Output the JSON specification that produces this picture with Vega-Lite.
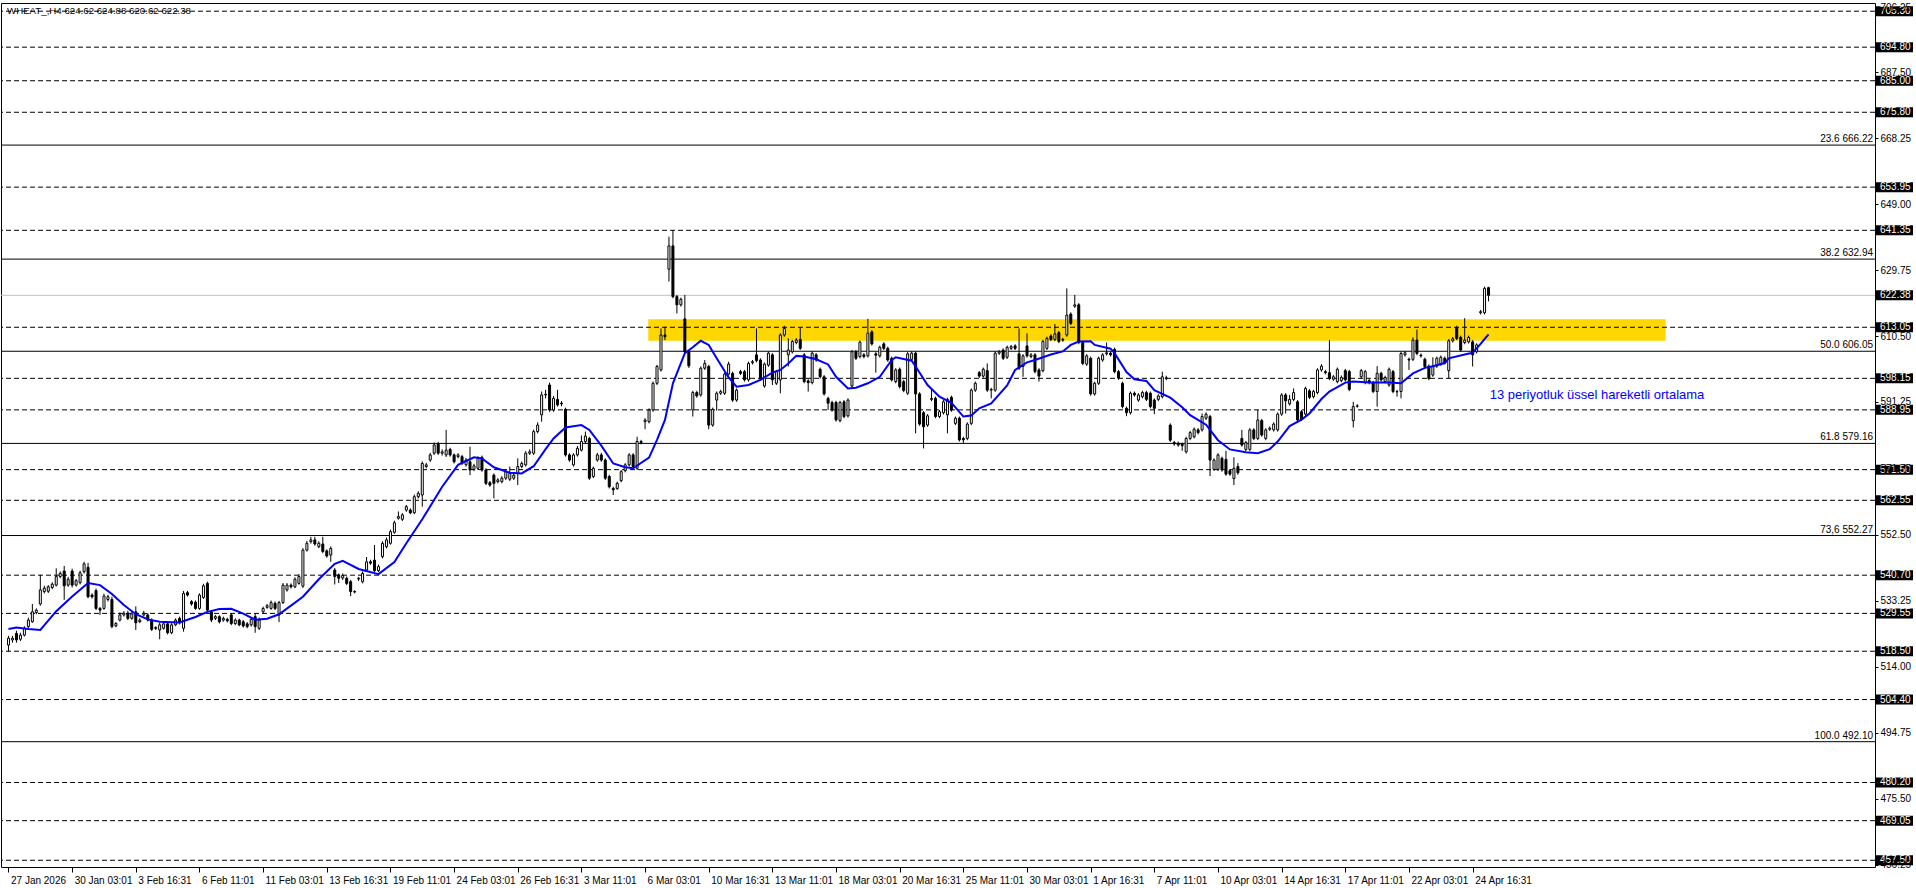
{
"$schema": "https://vega.github.io/schema/vega-lite/v6.json",
"width": 1874, "height": 864,
"autosize": {"type": "none"},
"padding": {"left": 1, "top": 3, "right": 41, "bottom": 21},
"background": "#ffffff",
"config": {"view": {"stroke": "#000000", "strokeWidth": 1}, "text": {"font": "Liberation Sans"}},
"datasets": {
"candles": [
{"i":0,"o":520.3,"h":523.0,"l":518.4,"c":522.3},{"i":1,"o":521.8,"h":523.0,"l":521.0,"c":522.3},{"i":2,"o":523.7,"h":524.5,"l":521.0,"c":521.8},{"i":3,"o":522.0,"h":523.9,"l":521.5,"c":523.2},{"i":4,"o":523.2,"h":525.8,"l":522.8,"c":525.2},{"i":5,"o":525.7,"h":528.3,"l":525.2,"c":527.6},{"i":6,"o":527.1,"h":532.3,"l":526.8,"c":530.0},{"i":7,"o":529.8,"h":531.0,"l":529.3,"c":530.5},{"i":8,"o":532.3,"h":540.8,"l":531.8,"c":536.4},{"i":9,"o":535.9,"h":537.6,"l":535.4,"c":536.9},
{"i":10,"o":536.0,"h":537.8,"l":535.5,"c":537.3},{"i":11,"o":537.1,"h":538.6,"l":536.6,"c":538.1},{"i":12,"o":537.8,"h":542.7,"l":537.4,"c":540.3},{"i":13,"o":540.3,"h":541.8,"l":539.8,"c":541.2},{"i":14,"o":541.9,"h":543.4,"l":533.5,"c":537.6},{"i":15,"o":537.8,"h":540.2,"l":537.3,"c":539.5},{"i":16,"o":541.9,"h":542.6,"l":537.1,"c":537.8},{"i":17,"o":537.8,"h":539.6,"l":537.4,"c":539.1},{"i":18,"o":538.5,"h":542.0,"l":538.0,"c":541.4},{"i":19,"o":541.7,"h":544.6,"l":541.2,"c":544.0},
{"i":20,"o":543.0,"h":544.3,"l":534.0,"c":534.4},{"i":21,"o":534.9,"h":535.4,"l":533.9,"c":534.4},{"i":22,"o":536.2,"h":536.8,"l":530.5,"c":531.0},{"i":23,"o":531.0,"h":531.4,"l":529.1,"c":530.5},{"i":24,"o":531.0,"h":535.3,"l":530.6,"c":534.6},{"i":25,"o":533.6,"h":535.0,"l":533.0,"c":534.4},{"i":26,"o":533.6,"h":534.4,"l":525.2,"c":525.7},{"i":27,"o":525.9,"h":527.0,"l":525.5,"c":526.6},{"i":28,"o":527.6,"h":529.8,"l":527.2,"c":529.1},{"i":29,"o":529.1,"h":530.2,"l":528.6,"c":529.6},
{"i":30,"o":529.6,"h":530.3,"l":527.6,"c":528.1},{"i":31,"o":528.1,"h":530.1,"l":527.7,"c":529.4},{"i":32,"o":530.0,"h":531.6,"l":524.7,"c":526.8},{"i":33,"o":527.1,"h":528.1,"l":526.7,"c":527.6},{"i":34,"o":529.1,"h":530.3,"l":528.6,"c":529.6},{"i":35,"o":529.1,"h":529.6,"l":527.2,"c":527.6},{"i":36,"o":527.6,"h":528.1,"l":524.4,"c":524.9},{"i":37,"o":525.4,"h":525.8,"l":524.7,"c":525.2},{"i":38,"o":524.7,"h":526.8,"l":522.0,"c":526.2},{"i":39,"o":525.2,"h":527.0,"l":524.8,"c":526.5},
{"i":40,"o":526.5,"h":527.0,"l":523.4,"c":523.9},{"i":41,"o":523.9,"h":526.7,"l":523.5,"c":526.2},{"i":42,"o":526.2,"h":528.1,"l":525.8,"c":527.6},{"i":43,"o":528.1,"h":528.6,"l":526.3,"c":526.8},{"i":44,"o":525.2,"h":536.1,"l":524.2,"c":535.4},{"i":45,"o":535.6,"h":536.1,"l":534.5,"c":534.9},{"i":46,"o":533.0,"h":533.4,"l":531.8,"c":532.3},{"i":47,"o":532.8,"h":533.3,"l":530.6,"c":531.0},{"i":48,"o":531.0,"h":535.4,"l":530.6,"c":534.9},{"i":49,"o":534.2,"h":538.2,"l":533.8,"c":537.6},
{"i":50,"o":538.3,"h":538.8,"l":530.0,"c":530.5},{"i":51,"o":530.0,"h":530.5,"l":527.0,"c":527.6},{"i":52,"o":528.1,"h":529.1,"l":527.6,"c":528.6},{"i":53,"o":528.6,"h":529.0,"l":526.6,"c":527.1},{"i":54,"o":527.6,"h":528.6,"l":527.1,"c":528.1},{"i":55,"o":527.8,"h":528.3,"l":526.9,"c":527.4},{"i":56,"o":529.1,"h":529.6,"l":526.1,"c":526.6},{"i":57,"o":526.6,"h":528.1,"l":526.1,"c":527.6},{"i":58,"o":527.6,"h":528.0,"l":525.8,"c":526.2},{"i":59,"o":527.1,"h":527.6,"l":525.4,"c":525.9},
{"i":60,"o":526.5,"h":527.0,"l":525.2,"c":525.7},{"i":61,"o":526.2,"h":528.3,"l":525.7,"c":527.8},{"i":62,"o":528.6,"h":529.6,"l":523.9,"c":525.7},{"i":63,"o":525.2,"h":528.3,"l":524.7,"c":527.6},{"i":64,"o":530.0,"h":531.5,"l":529.5,"c":531.0},{"i":65,"o":531.3,"h":532.3,"l":530.9,"c":531.8},{"i":66,"o":531.0,"h":533.3,"l":530.6,"c":532.7},{"i":67,"o":532.5,"h":533.0,"l":530.5,"c":531.0},{"i":68,"o":529.1,"h":533.2,"l":527.0,"c":532.7},{"i":69,"o":532.7,"h":538.4,"l":532.3,"c":537.8},
{"i":70,"o":536.4,"h":538.4,"l":535.9,"c":537.8},{"i":71,"o":537.8,"h":538.3,"l":536.8,"c":537.3},{"i":72,"o":537.3,"h":540.1,"l":536.9,"c":539.5},{"i":73,"o":538.3,"h":541.0,"l":537.9,"c":540.3},{"i":74,"o":537.5,"h":548.6,"l":537.0,"c":548.0},{"i":75,"o":548.0,"h":550.7,"l":547.6,"c":550.0},{"i":76,"o":550.5,"h":551.9,"l":549.9,"c":551.0},{"i":77,"o":551.0,"h":551.9,"l":549.3,"c":549.8},{"i":78,"o":549.0,"h":550.6,"l":548.6,"c":550.0},{"i":79,"o":549.8,"h":551.9,"l":547.1,"c":547.6},
{"i":80,"o":547.8,"h":548.2,"l":545.8,"c":546.3},{"i":81,"o":546.6,"h":549.1,"l":544.6,"c":548.5},{"i":82,"o":542.2,"h":542.8,"l":538.0,"c":540.3},{"i":83,"o":540.8,"h":541.2,"l":538.4,"c":539.8},{"i":84,"o":539.9,"h":541.2,"l":539.3,"c":540.6},{"i":85,"o":539.8,"h":540.3,"l":537.8,"c":538.3},{"i":86,"o":538.8,"h":539.3,"l":534.6,"c":535.9},{"i":87,"o":535.9,"h":536.3,"l":535.4,"c":535.8},{"i":88,"o":539.6,"h":540.2,"l":539.0,"c":539.8},{"i":89,"o":538.8,"h":541.8,"l":538.3,"c":541.2},
{"i":90,"o":542.2,"h":546.0,"l":541.8,"c":544.6},{"i":91,"o":544.6,"h":545.2,"l":543.7,"c":544.2},{"i":92,"o":545.1,"h":549.5,"l":541.6,"c":542.0},{"i":93,"o":542.0,"h":543.8,"l":541.6,"c":543.2},{"i":94,"o":546.1,"h":550.6,"l":545.6,"c":550.0},{"i":95,"o":549.0,"h":551.7,"l":548.5,"c":551.0},{"i":96,"o":550.0,"h":554.0,"l":549.6,"c":553.4},{"i":97,"o":553.2,"h":556.6,"l":552.8,"c":556.0},{"i":98,"o":557.3,"h":559.3,"l":556.9,"c":557.8},{"i":99,"o":557.0,"h":558.8,"l":556.5,"c":558.3},
{"i":100,"o":559.7,"h":561.2,"l":559.2,"c":560.7},{"i":101,"o":559.7,"h":560.2,"l":558.5,"c":558.9},{"i":102,"o":558.9,"h":564.2,"l":558.5,"c":563.6},{"i":103,"o":563.6,"h":565.2,"l":563.1,"c":564.6},{"i":104,"o":564.1,"h":573.9,"l":560.7,"c":573.3},{"i":105,"o":572.4,"h":573.5,"l":571.9,"c":572.9},{"i":106,"o":574.3,"h":576.4,"l":573.8,"c":575.8},{"i":107,"o":576.3,"h":579.4,"l":575.8,"c":578.7},{"i":108,"o":579.0,"h":579.6,"l":575.8,"c":576.3},{"i":109,"o":576.3,"h":577.4,"l":575.6,"c":576.7},
{"i":110,"o":575.8,"h":583.1,"l":575.2,"c":577.2},{"i":111,"o":577.4,"h":577.9,"l":575.3,"c":575.8},{"i":112,"o":575.8,"h":576.2,"l":573.3,"c":573.8},{"i":113,"o":575.3,"h":576.3,"l":574.8,"c":575.8},{"i":114,"o":575.3,"h":575.8,"l":572.9,"c":573.3},{"i":115,"o":572.9,"h":574.9,"l":572.4,"c":574.3},{"i":116,"o":573.8,"h":578.2,"l":569.9,"c":571.4},{"i":117,"o":571.6,"h":573.2,"l":571.1,"c":572.6},{"i":118,"o":571.9,"h":575.4,"l":571.4,"c":574.8},{"i":119,"o":575.1,"h":575.6,"l":570.9,"c":571.4},
{"i":120,"o":571.4,"h":571.9,"l":567.0,"c":567.5},{"i":121,"o":567.7,"h":568.2,"l":566.5,"c":567.0},{"i":122,"o":569.9,"h":570.4,"l":563.1,"c":567.5},{"i":123,"o":568.0,"h":569.0,"l":567.5,"c":568.5},{"i":124,"o":568.0,"h":569.6,"l":567.5,"c":569.0},{"i":125,"o":569.0,"h":571.5,"l":568.5,"c":570.9},{"i":126,"o":568.7,"h":572.4,"l":568.2,"c":570.4},{"i":127,"o":569.0,"h":570.4,"l":568.5,"c":569.9},{"i":128,"o":570.4,"h":574.8,"l":567.0,"c":572.4},{"i":129,"o":572.4,"h":573.9,"l":571.9,"c":573.3},
{"i":130,"o":572.9,"h":576.9,"l":572.4,"c":576.3},{"i":131,"o":576.3,"h":577.4,"l":575.8,"c":576.7},{"i":132,"o":576.3,"h":583.2,"l":575.8,"c":582.6},{"i":133,"o":582.6,"h":585.3,"l":582.1,"c":584.5},{"i":134,"o":587.5,"h":594.3,"l":585.5,"c":593.3},{"i":135,"o":593.3,"h":594.8,"l":592.3,"c":593.5},{"i":136,"o":596.2,"h":596.9,"l":588.4,"c":588.9},{"i":137,"o":588.9,"h":593.0,"l":588.4,"c":592.3},{"i":138,"o":592.0,"h":594.8,"l":589.9,"c":590.4},{"i":139,"o":590.9,"h":591.5,"l":590.0,"c":590.7},
{"i":140,"o":589.1,"h":589.6,"l":575.3,"c":575.8},{"i":141,"o":575.8,"h":576.3,"l":573.8,"c":574.3},{"i":142,"o":572.9,"h":576.3,"l":572.4,"c":575.8},{"i":143,"o":575.8,"h":578.4,"l":575.3,"c":577.7},{"i":144,"o":577.2,"h":581.5,"l":576.8,"c":579.7},{"i":145,"o":579.7,"h":582.6,"l":579.2,"c":581.3},{"i":146,"o":580.6,"h":581.1,"l":568.5,"c":569.0},{"i":147,"o":569.5,"h":572.4,"l":569.0,"c":571.9},{"i":148,"o":574.3,"h":576.4,"l":573.8,"c":575.8},{"i":149,"o":575.8,"h":576.4,"l":573.8,"c":574.3},
{"i":150,"o":574.3,"h":574.8,"l":568.5,"c":569.0},{"i":151,"o":569.5,"h":570.0,"l":566.0,"c":566.5},{"i":152,"o":566.0,"h":566.5,"l":564.1,"c":565.6},{"i":153,"o":566.0,"h":568.0,"l":565.6,"c":567.5},{"i":154,"o":568.3,"h":571.4,"l":567.8,"c":570.9},{"i":155,"o":571.2,"h":573.4,"l":570.7,"c":572.9},{"i":156,"o":572.9,"h":576.3,"l":572.4,"c":575.8},{"i":157,"o":575.8,"h":576.3,"l":571.9,"c":572.4},{"i":158,"o":571.9,"h":581.1,"l":571.4,"c":579.7},{"i":159,"o":579.7,"h":580.2,"l":578.9,"c":579.4},
{"i":160,"o":585.5,"h":586.5,"l":583.3,"c":586.0},{"i":161,"o":585.5,"h":589.4,"l":585.0,"c":588.9},{"i":162,"o":588.9,"h":597.2,"l":588.4,"c":596.7},{"i":163,"o":596.7,"h":602.1,"l":596.2,"c":601.6},{"i":164,"o":600.6,"h":612.7,"l":600.1,"c":610.8},{"i":165,"o":610.8,"h":613.2,"l":609.3,"c":610.3},{"i":166,"o":630.0,"h":639.5,"l":626.4,"c":636.8},{"i":167,"o":636.8,"h":641.4,"l":621.5,"c":622.0},{"i":168,"o":622.0,"h":622.5,"l":617.1,"c":619.6},{"i":169,"o":619.6,"h":621.7,"l":619.1,"c":621.2},
{"i":170,"o":615.5,"h":622.5,"l":605.4,"c":605.9},{"i":171,"o":605.9,"h":606.4,"l":601.2,"c":601.8},{"i":172,"o":588.9,"h":594.5,"l":587.0,"c":594.0},{"i":173,"o":594.0,"h":594.5,"l":592.5,"c":593.0},{"i":174,"o":593.3,"h":601.6,"l":592.8,"c":601.1},{"i":175,"o":601.1,"h":603.5,"l":600.6,"c":602.5},{"i":176,"o":601.6,"h":602.1,"l":583.3,"c":584.5},{"i":177,"o":584.5,"h":589.6,"l":584.0,"c":589.1},{"i":178,"o":591.8,"h":594.3,"l":588.7,"c":593.8},{"i":179,"o":593.8,"h":594.8,"l":593.3,"c":594.3},
{"i":180,"o":593.8,"h":599.9,"l":593.3,"c":599.4},{"i":181,"o":599.4,"h":603.0,"l":598.9,"c":602.3},{"i":182,"o":599.6,"h":600.1,"l":591.3,"c":591.8},{"i":183,"o":591.8,"h":595.2,"l":591.3,"c":594.7},{"i":184,"o":600.1,"h":600.6,"l":599.1,"c":599.6},{"i":185,"o":600.1,"h":600.6,"l":597.2,"c":597.7},{"i":186,"o":597.7,"h":603.0,"l":597.2,"c":602.5},{"i":187,"o":602.7,"h":603.5,"l":602.2,"c":603.0},{"i":188,"o":605.0,"h":612.7,"l":602.8,"c":603.3},{"i":189,"o":603.5,"h":604.0,"l":597.4,"c":597.9},
{"i":190,"o":595.9,"h":602.8,"l":595.4,"c":602.3},{"i":191,"o":602.0,"h":606.0,"l":601.5,"c":605.5},{"i":192,"o":605.0,"h":605.5,"l":596.2,"c":597.7},{"i":193,"o":596.7,"h":600.6,"l":596.2,"c":600.1},{"i":194,"o":597.7,"h":611.3,"l":593.8,"c":610.8},{"i":195,"o":610.8,"h":613.5,"l":610.3,"c":612.7},{"i":196,"o":605.0,"h":609.8,"l":601.6,"c":606.4},{"i":197,"o":605.9,"h":609.4,"l":605.4,"c":608.9},{"i":198,"o":608.6,"h":609.9,"l":608.1,"c":609.3},{"i":199,"o":609.5,"h":613.0,"l":606.4,"c":606.9},
{"i":200,"o":605.0,"h":605.5,"l":596.7,"c":597.2},{"i":201,"o":597.4,"h":597.9,"l":594.3,"c":596.9},{"i":202,"o":596.9,"h":606.0,"l":596.4,"c":605.5},{"i":203,"o":605.0,"h":605.5,"l":603.0,"c":603.5},{"i":204,"o":600.8,"h":601.3,"l":598.1,"c":598.6},{"i":205,"o":598.6,"h":599.1,"l":593.1,"c":593.6},{"i":206,"o":592.3,"h":592.8,"l":588.9,"c":590.9},{"i":207,"o":591.1,"h":591.6,"l":588.4,"c":588.9},{"i":208,"o":591.1,"h":591.6,"l":585.5,"c":586.0},{"i":209,"o":585.8,"h":591.6,"l":585.3,"c":591.1},
{"i":210,"o":591.3,"h":591.8,"l":586.5,"c":587.0},{"i":211,"o":587.2,"h":592.3,"l":586.7,"c":591.8},{"i":212,"o":595.9,"h":606.4,"l":595.4,"c":605.9},{"i":213,"o":605.9,"h":606.4,"l":603.5,"c":604.0},{"i":214,"o":604.5,"h":609.2,"l":604.0,"c":608.7},{"i":215,"o":605.0,"h":605.5,"l":604.0,"c":604.5},{"i":216,"o":604.7,"h":615.5,"l":604.2,"c":611.3},{"i":217,"o":611.7,"h":612.2,"l":607.7,"c":608.2},{"i":218,"o":605.3,"h":605.8,"l":599.8,"c":604.9},{"i":219,"o":604.7,"h":607.7,"l":604.2,"c":607.2},
{"i":220,"o":608.2,"h":608.7,"l":606.4,"c":606.9},{"i":221,"o":606.9,"h":607.4,"l":603.0,"c":603.5},{"i":222,"o":604.0,"h":604.5,"l":597.2,"c":597.7},{"i":223,"o":597.2,"h":601.1,"l":596.7,"c":600.6},{"i":224,"o":600.8,"h":601.3,"l":595.2,"c":595.7},{"i":225,"o":597.2,"h":597.7,"l":594.1,"c":594.6},{"i":226,"o":593.8,"h":605.8,"l":593.3,"c":605.3},{"i":227,"o":603.7,"h":606.0,"l":603.2,"c":605.5},{"i":228,"o":605.5,"h":606.0,"l":582.1,"c":593.6},{"i":229,"o":593.6,"h":594.1,"l":584.3,"c":584.8},
{"i":230,"o":588.1,"h":588.6,"l":577.7,"c":584.0},{"i":231,"o":584.5,"h":587.7,"l":584.0,"c":587.2},{"i":232,"o":592.0,"h":595.2,"l":591.5,"c":592.3},{"i":233,"o":592.3,"h":592.8,"l":586.5,"c":587.0},{"i":234,"o":587.0,"h":588.9,"l":586.5,"c":588.4},{"i":235,"o":588.1,"h":591.8,"l":587.6,"c":591.3},{"i":236,"o":587.5,"h":592.5,"l":582.1,"c":592.0},{"i":237,"o":592.6,"h":593.1,"l":588.4,"c":588.9},{"i":238,"o":585.0,"h":587.0,"l":584.5,"c":586.5},{"i":239,"o":586.5,"h":587.0,"l":579.7,"c":580.2},
{"i":240,"o":580.6,"h":581.1,"l":579.2,"c":580.2},{"i":241,"o":580.6,"h":585.3,"l":580.1,"c":584.8},{"i":242,"o":585.0,"h":595.2,"l":584.5,"c":594.7},{"i":243,"o":594.7,"h":597.2,"l":594.2,"c":596.7},{"i":244,"o":599.8,"h":600.3,"l":598.3,"c":598.8},{"i":245,"o":598.8,"h":601.3,"l":598.3,"c":600.8},{"i":246,"o":600.4,"h":602.5,"l":594.2,"c":594.7},{"i":247,"o":594.7,"h":595.4,"l":592.3,"c":594.9},{"i":248,"o":594.7,"h":606.0,"l":594.2,"c":605.5},{"i":249,"o":605.5,"h":606.4,"l":605.0,"c":605.9},
{"i":250,"o":606.4,"h":606.9,"l":603.5,"c":604.0},{"i":251,"o":604.3,"h":607.7,"l":603.8,"c":607.2},{"i":252,"o":606.9,"h":607.9,"l":606.4,"c":607.4},{"i":253,"o":607.6,"h":608.1,"l":606.4,"c":606.9},{"i":254,"o":605.3,"h":612.7,"l":600.6,"c":601.1},{"i":255,"o":601.6,"h":605.2,"l":598.6,"c":604.7},{"i":256,"o":607.6,"h":611.3,"l":604.2,"c":604.7},{"i":257,"o":604.5,"h":605.5,"l":604.0,"c":605.0},{"i":258,"o":605.0,"h":605.5,"l":599.6,"c":600.1},{"i":259,"o":600.6,"h":601.1,"l":597.2,"c":598.8},
{"i":260,"o":600.4,"h":609.4,"l":599.9,"c":608.9},{"i":261,"o":606.9,"h":610.3,"l":606.4,"c":609.8},{"i":262,"o":610.5,"h":611.0,"l":609.0,"c":609.5},{"i":263,"o":609.5,"h":614.0,"l":609.0,"c":611.1},{"i":264,"o":611.5,"h":612.0,"l":608.4,"c":608.9},{"i":265,"o":609.3,"h":610.0,"l":608.8,"c":609.5},{"i":266,"o":610.8,"h":624.4,"l":610.3,"c":616.6},{"i":267,"o":616.9,"h":617.4,"l":613.7,"c":614.2},{"i":268,"o":619.2,"h":622.5,"l":618.7,"c":619.6},{"i":269,"o":619.6,"h":620.1,"l":608.1,"c":608.6},
{"i":270,"o":608.6,"h":609.1,"l":602.0,"c":602.5},{"i":271,"o":602.3,"h":605.2,"l":601.8,"c":604.7},{"i":272,"o":604.0,"h":604.5,"l":593.1,"c":593.6},{"i":273,"o":593.6,"h":597.2,"l":593.1,"c":596.7},{"i":274,"o":596.7,"h":604.5,"l":596.2,"c":604.0},{"i":275,"o":603.5,"h":605.5,"l":603.0,"c":605.0},{"i":276,"o":605.3,"h":608.6,"l":604.8,"c":605.6},{"i":277,"o":605.5,"h":606.0,"l":604.5,"c":605.0},{"i":278,"o":606.6,"h":607.1,"l":599.6,"c":600.1},{"i":279,"o":600.1,"h":600.6,"l":597.7,"c":598.2},
{"i":280,"o":596.7,"h":597.2,"l":589.4,"c":589.9},{"i":281,"o":589.4,"h":589.9,"l":587.1,"c":588.1},{"i":282,"o":588.1,"h":594.3,"l":587.6,"c":593.8},{"i":283,"o":593.8,"h":594.3,"l":592.8,"c":593.3},{"i":284,"o":591.8,"h":593.8,"l":591.3,"c":593.3},{"i":285,"o":592.8,"h":594.5,"l":592.3,"c":594.0},{"i":286,"o":594.0,"h":594.5,"l":591.5,"c":592.0},{"i":287,"o":593.8,"h":594.3,"l":589.4,"c":589.9},{"i":288,"o":591.8,"h":592.3,"l":587.7,"c":589.4},{"i":289,"o":592.0,"h":593.5,"l":591.5,"c":593.0},
{"i":290,"o":592.8,"h":600.1,"l":592.3,"c":598.6},{"i":291,"o":598.3,"h":598.9,"l":597.6,"c":598.1},{"i":292,"o":584.5,"h":585.0,"l":579.6,"c":580.1},{"i":293,"o":579.4,"h":579.9,"l":578.5,"c":579.0},{"i":294,"o":579.2,"h":579.7,"l":578.2,"c":578.7},{"i":295,"o":578.9,"h":579.4,"l":577.0,"c":578.5},{"i":296,"o":576.7,"h":581.1,"l":576.2,"c":580.6},{"i":297,"o":580.6,"h":582.8,"l":580.1,"c":582.3},{"i":298,"o":581.1,"h":583.8,"l":580.6,"c":583.3},{"i":299,"o":583.1,"h":583.6,"l":581.8,"c":582.3},
{"i":300,"o":583.1,"h":587.9,"l":582.6,"c":587.0},{"i":301,"o":586.5,"h":588.2,"l":586.0,"c":587.7},{"i":302,"o":587.0,"h":587.5,"l":569.6,"c":574.3},{"i":303,"o":571.6,"h":574.8,"l":571.1,"c":574.3},{"i":304,"o":571.6,"h":576.3,"l":571.1,"c":575.8},{"i":305,"o":574.8,"h":575.3,"l":570.9,"c":571.4},{"i":306,"o":574.5,"h":577.0,"l":569.7,"c":570.2},{"i":307,"o":571.2,"h":571.7,"l":569.7,"c":570.2},{"i":308,"o":568.9,"h":575.1,"l":567.0,"c":571.9},{"i":309,"o":572.4,"h":573.4,"l":570.0,"c":570.6},
{"i":310,"o":580.6,"h":583.1,"l":578.2,"c":578.7},{"i":311,"o":577.4,"h":579.9,"l":576.9,"c":579.4},{"i":312,"o":577.4,"h":583.6,"l":576.9,"c":583.1},{"i":313,"o":583.1,"h":583.6,"l":580.1,"c":580.6},{"i":314,"o":580.6,"h":588.9,"l":580.1,"c":586.0},{"i":315,"o":585.8,"h":586.3,"l":581.1,"c":581.6},{"i":316,"o":580.6,"h":583.6,"l":580.1,"c":583.1},{"i":317,"o":583.3,"h":584.1,"l":582.8,"c":583.6},{"i":318,"o":583.1,"h":585.3,"l":582.6,"c":584.8},{"i":319,"o":583.1,"h":588.2,"l":582.6,"c":587.7},
{"i":320,"o":587.7,"h":593.8,"l":587.2,"c":593.3},{"i":321,"o":593.3,"h":593.8,"l":587.9,"c":591.6},{"i":322,"o":590.7,"h":593.3,"l":590.2,"c":592.0},{"i":323,"o":592.0,"h":595.2,"l":591.5,"c":594.0},{"i":324,"o":591.3,"h":591.8,"l":585.5,"c":586.0},{"i":325,"o":588.4,"h":588.9,"l":585.7,"c":586.2},{"i":326,"o":587.7,"h":595.7,"l":587.2,"c":595.2},{"i":327,"o":594.5,"h":595.0,"l":592.1,"c":592.6},{"i":328,"o":592.8,"h":594.8,"l":592.3,"c":594.3},{"i":329,"o":594.0,"h":601.1,"l":593.5,"c":600.6},
{"i":330,"o":600.6,"h":602.3,"l":600.1,"c":601.7},{"i":331,"o":600.1,"h":600.6,"l":599.3,"c":599.8},{"i":332,"o":599.8,"h":609.3,"l":597.6,"c":598.1},{"i":333,"o":597.9,"h":599.1,"l":597.4,"c":598.6},{"i":334,"o":597.2,"h":601.3,"l":596.7,"c":600.8},{"i":335,"o":597.5,"h":599.0,"l":597.0,"c":598.4},{"i":336,"o":600.4,"h":600.9,"l":597.2,"c":597.7},{"i":337,"o":600.1,"h":600.6,"l":594.4,"c":594.9},{"i":338,"o":585.8,"h":591.3,"l":583.8,"c":589.9},{"i":339,"o":590.0,"h":590.6,"l":589.6,"c":590.1},
{"i":340,"o":598.6,"h":600.9,"l":598.1,"c":600.4},{"i":341,"o":596.9,"h":600.6,"l":596.4,"c":600.1},{"i":342,"o":597.5,"h":598.0,"l":596.4,"c":596.9},{"i":343,"o":596.9,"h":597.4,"l":593.8,"c":594.3},{"i":344,"o":594.3,"h":601.7,"l":589.9,"c":599.6},{"i":345,"o":599.6,"h":600.1,"l":597.2,"c":597.7},{"i":346,"o":597.2,"h":598.9,"l":596.7,"c":598.4},{"i":347,"o":596.2,"h":601.3,"l":595.7,"c":600.8},{"i":348,"o":600.1,"h":600.6,"l":593.8,"c":594.3},{"i":349,"o":594.3,"h":594.8,"l":592.8,"c":594.2},
{"i":350,"o":594.3,"h":605.9,"l":592.3,"c":605.4},{"i":351,"o":605.0,"h":606.1,"l":604.5,"c":605.6},{"i":352,"o":603.7,"h":604.2,"l":600.6,"c":603.5},{"i":353,"o":603.7,"h":610.1,"l":603.2,"c":609.3},{"i":354,"o":609.3,"h":612.4,"l":604.9,"c":605.4},{"i":355,"o":604.9,"h":605.4,"l":604.2,"c":604.7},{"i":356,"o":603.7,"h":604.2,"l":601.1,"c":601.6},{"i":357,"o":601.7,"h":602.2,"l":597.6,"c":598.1},{"i":358,"o":599.1,"h":604.3,"l":598.6,"c":601.7},{"i":359,"o":601.7,"h":604.5,"l":601.2,"c":604.0},
{"i":360,"o":602.3,"h":604.8,"l":601.8,"c":604.3},{"i":361,"o":604.0,"h":604.5,"l":602.2,"c":602.7},{"i":362,"o":600.4,"h":609.6,"l":598.1,"c":609.1},{"i":363,"o":609.1,"h":610.2,"l":608.6,"c":609.7},{"i":364,"o":613.0,"h":613.5,"l":609.3,"c":609.8},{"i":365,"o":610.1,"h":610.6,"l":605.9,"c":606.4},{"i":366,"o":608.6,"h":615.7,"l":608.1,"c":609.3},{"i":367,"o":608.8,"h":610.6,"l":608.3,"c":610.1},{"i":368,"o":608.8,"h":609.3,"l":601.6,"c":605.0},{"i":369,"o":605.9,"h":608.4,"l":605.4,"c":607.9},
{"i":370,"o":617.3,"h":618.1,"l":616.8,"c":617.6},{"i":371,"o":617.3,"h":624.9,"l":616.8,"c":624.4},{"i":372,"o":624.62,"h":624.88,"l":620.62,"c":622.38}
],
"ema": [
{"i":0,"v":525.0},{"i":2,"v":525.4},{"i":5,"v":525.0},{"i":8,"v":524.7},{"i":12,"v":530.2},{"i":16,"v":534.5},{"i":20,"v":538.4},{"i":23,"v":537.8},{"i":26,"v":535.2},{"i":29,"v":532.0},{"i":32,"v":529.3},{"i":35,"v":527.8},{"i":38,"v":527.1},{"i":43,"v":526.9},{"i":47,"v":528.5},{"i":50,"v":530.0},{"i":53,"v":530.8},{"i":56,"v":530.9},{"i":59,"v":529.5},{"i":62,"v":527.7},{"i":65,"v":528.0},{"i":68,"v":529.3},{"i":71,"v":531.8},{"i":74,"v":534.4},{"i":78,"v":539.5},{"i":82,"v":544.0},{"i":84,"v":544.9},{"i":88,"v":542.5},{"i":93,"v":541.0},{"i":97,"v":544.5},{"i":100,"v":550.0},{"i":104,"v":557.0},{"i":109,"v":566.5},{"i":113,"v":572.9},{"i":117,"v":575.1},{"i":119,"v":574.8},{"i":122,"v":572.2},{"i":126,"v":570.6},{"i":129,"v":570.4},{"i":132,"v":572.5},{"i":135,"v":577.5},{"i":137,"v":580.6},{"i":140,"v":583.8},{"i":144,"v":584.5},{"i":146,"v":583.1},{"i":149,"v":578.5},{"i":152,"v":573.3},{"i":155,"v":572.2},{"i":157,"v":571.9},{"i":161,"v":575.0},{"i":163,"v":580.2},{"i":165,"v":586.0},{"i":167,"v":596.7},{"i":170,"v":605.5},{"i":172,"v":607.2},{"i":174,"v":609.1},{"i":176,"v":607.9},{"i":178,"v":604.0},{"i":181,"v":598.4},{"i":183,"v":595.7},{"i":186,"v":596.2},{"i":189,"v":597.7},{"i":192,"v":599.8},{"i":194,"v":600.6},{"i":196,"v":602.5},{"i":198,"v":604.7},{"i":200,"v":604.5},{"i":203,"v":603.7},{"i":206,"v":602.2},{"i":208,"v":598.6},{"i":211,"v":595.2},{"i":213,"v":595.4},{"i":216,"v":596.7},{"i":219,"v":598.6},{"i":222,"v":603.5},{"i":223,"v":604.3},{"i":227,"v":603.3},{"i":228,"v":601.6},{"i":231,"v":596.2},{"i":234,"v":592.8},{"i":237,"v":591.0},{"i":240,"v":587.0},{"i":242,"v":587.3},{"i":244,"v":589.4},{"i":247,"v":590.8},{"i":251,"v":596.1},{"i":253,"v":600.6},{"i":256,"v":602.8},{"i":258,"v":603.5},{"i":262,"v":605.1},{"i":265,"v":606.0},{"i":267,"v":607.9},{"i":269,"v":608.9},{"i":272,"v":609.0},{"i":273,"v":607.9},{"i":277,"v":606.8},{"i":278,"v":605.5},{"i":281,"v":600.0},{"i":283,"v":597.9},{"i":286,"v":597.4},{"i":288,"v":594.7},{"i":292,"v":592.5},{"i":295,"v":589.7},{"i":297,"v":587.4},{"i":301,"v":584.6},{"i":304,"v":580.1},{"i":307,"v":577.4},{"i":311,"v":576.6},{"i":314,"v":576.3},{"i":317,"v":577.5},{"i":319,"v":579.7},{"i":322,"v":584.2},{"i":325,"v":586.1},{"i":327,"v":587.9},{"i":330,"v":592.1},{"i":332,"v":594.3},{"i":336,"v":596.9},{"i":338,"v":597.2},{"i":342,"v":596.9},{"i":347,"v":596.9},{"i":350,"v":596.7},{"i":353,"v":599.6},{"i":356,"v":601.2},{"i":358,"v":601.7},{"i":361,"v":602.6},{"i":362,"v":604.0},{"i":366,"v":605.1},{"i":368,"v":605.6},{"i":370,"v":608.2},{"i":372,"v":611.0}
],
"dashed": [{"p":705.30},{"p":694.80},{"p":685.00},{"p":675.80},{"p":653.95},{"p":641.35},{"p":613.05},{"p":598.15},{"p":588.95},{"p":571.50},{"p":562.55},{"p":540.70},{"p":529.55},{"p":518.50},{"p":504.40},{"p":480.20},{"p":469.05},{"p":457.50}],
"boxes": [{"p":705.30},{"p":694.80},{"p":685.00},{"p":675.80},{"p":653.95},{"p":641.35},{"p":622.38},{"p":613.05},{"p":598.15},{"p":588.95},{"p":571.50},{"p":562.55},{"p":540.70},{"p":529.55},{"p":518.50},{"p":504.40},{"p":480.20},{"p":469.05},{"p":457.50}],
"fib": [{"p":666.22,"t":"23.6 666.22"},{"p":632.94,"t":"38.2 632.94"},{"p":606.05,"t":"50.0 606.05"},{"p":579.16,"t":"61.8 579.16"},{"p":552.27,"t":"73,6 552.27"},{"p":492.10,"t":"100.0 492.10"}],
"zone": [{"i1":160.8,"i2":416.5,"p1":609.1,"p2":615.4}]
},
"layer": [
{"data":{"name":"zone"},"mark":{"type":"rect","color":"#FFD700"},
 "encoding":{
  "x":{"field":"i1","type":"quantitative","title":null,"scale":{"domain":[-0.625,467.875],"nice":false,"zero":false},
   "axis":{"orient":"bottom","values":[0,16,32,48,64,80,96,112,128,144,160,176,192,208,224,240,256,272,288,304,320,336,352,368],
    "labelExpr":"['27 Jan 2026','30 Jan 03:01','3 Feb 16:31','6 Feb 11:01','11 Feb 03:01','13 Feb 16:31','19 Feb 11:01','24 Feb 03:01','26 Feb 16:31','3 Mar 11:01','6 Mar 03:01','10 Mar 16:31','13 Mar 11:01','18 Mar 03:01','20 Mar 16:31','25 Mar 11:01','30 Mar 03:01','1 Apr 16:31','7 Apr 11:01','10 Apr 03:01','14 Apr 16:31','17 Apr 11:01','22 Apr 03:01','24 Apr 16:31'][round(datum.value/16)]",
    "labelAlign":"left","labelOffset":2,"labelPadding":3,"tickSize":5,"tickColor":"#000","domain":false,"grid":false,"labelFont":"Liberation Sans","labelFontSize":10,"labelColor":"#000","labelOverlap":false,"labelFlush":false,"labelBound":false,"title":null,"zindex":-1}},
  "x2":{"field":"i2"},
  "y":{"field":"p1","type":"quantitative","title":null,"scale":{"domain":[455.53,707.69],"nice":false,"zero":false},
   "axis":{"orient":"right","values":[706.25,697.25,687.5,678,668.25,658.75,649,639.25,629.75,620,610.5,600.75,591.25,581.5,571.75,562.25,552.5,543,533.25,523.75,514,504.25,494.75,485.25,475.5,465.75,456.25],
    "format":".2f","tickSize":3,"tickColor":"#000","labelPadding":2,"labelBaseline":"middle","domain":false,"grid":false,"labelFont":"Liberation Sans","labelFontSize":10,"labelColor":"#000","labelOverlap":false,"labelFlush":false,"labelBound":false,"title":null,"zindex":-1}},
  "y2":{"field":"p2"}}},
{"data":{"values":[{"p":622.38}]},"mark":{"type":"rule","color":"#C0C0C0","strokeWidth":1},
 "encoding":{"y":{"field":"p","type":"quantitative","title":null}}},
{"data":{"name":"fib"},"mark":{"type":"rule","color":"#000000","strokeWidth":1},
 "encoding":{"y":{"field":"p","type":"quantitative","title":null}}},
{"data":{"name":"dashed"},"mark":{"type":"rule","color":"#000000","strokeWidth":1,"strokeDash":[5,3]},
 "encoding":{"y":{"field":"p","type":"quantitative","title":null}}},
{"data":{"name":"candles"},"mark":{"type":"rule","color":"#000000","strokeWidth":1},
 "encoding":{"x":{"field":"i","type":"quantitative","title":null},"y":{"field":"l","type":"quantitative","title":null},"y2":{"field":"h"}}},
{"data":{"name":"candles"},"mark":{"type":"bar","width":2,"stroke":"#000000","strokeWidth":1},
 "encoding":{"x":{"field":"i","type":"quantitative","title":null},"y":{"field":"o","type":"quantitative","title":null},"y2":{"field":"c"},
  "fill":{"condition":{"test":"datum.c >= datum.o","value":"#ffffff"},"value":"#000000"}}},
{"data":{"name":"ema"},"mark":{"type":"line","color":"#0000FF","strokeWidth":2},
 "encoding":{"x":{"field":"i","type":"quantitative","title":null},"y":{"field":"v","type":"quantitative","title":null}}},
{"data":{"name":"fib"},"mark":{"type":"text","align":"right","baseline":"alphabetic","dx":-2,"dy":-3,"fontSize":10,"font":"Liberation Sans","color":"#000000"},
 "encoding":{"x":{"value":"width"},"y":{"field":"p","type":"quantitative","title":null},"text":{"field":"t"}}},
{"data":{"name":"boxes"},"mark":{"type":"rect","color":"#000000","xOffset":1,"x2Offset":38,"yOffset":-5,"y2Offset":5},
 "encoding":{"x":{"value":"width"},"x2":{"value":"width"},"y":{"field":"p","type":"quantitative","title":null},"y2":{"field":"p"}}},
{"data":{"name":"boxes"},"mark":{"type":"text","align":"left","baseline":"middle","dx":5,"fontSize":10,"font":"Liberation Sans","color":"#ffffff"},
 "encoding":{"x":{"value":"width"},"y":{"field":"p","type":"quantitative","title":null},"text":{"field":"p","format":".2f"}}},
{"data":{"values":[{"t":"13 periyotluk üssel hareketli ortalama"}]},"mark":{"type":"text","align":"left","baseline":"middle","fontSize":13,"font":"Liberation Sans","color":"#0000FF"},
 "encoding":{"x":{"datum":372.3,"type":"quantitative","title":null},"y":{"datum":593.3,"type":"quantitative","title":null},"text":{"field":"t"}}},
{"data":{"values":[{"t":"WHEAT_,H4 624.62 624.88 620.62 622.38"}]},"mark":{"type":"text","align":"left","baseline":"middle","dx":1,"fontSize":9.7,"font":"Liberation Sans","color":"#000000"},
 "encoding":{"x":{"datum":-0.625,"type":"quantitative","title":null},"y":{"datum":705.3,"type":"quantitative","title":null},"text":{"field":"t"}}}
]
}
